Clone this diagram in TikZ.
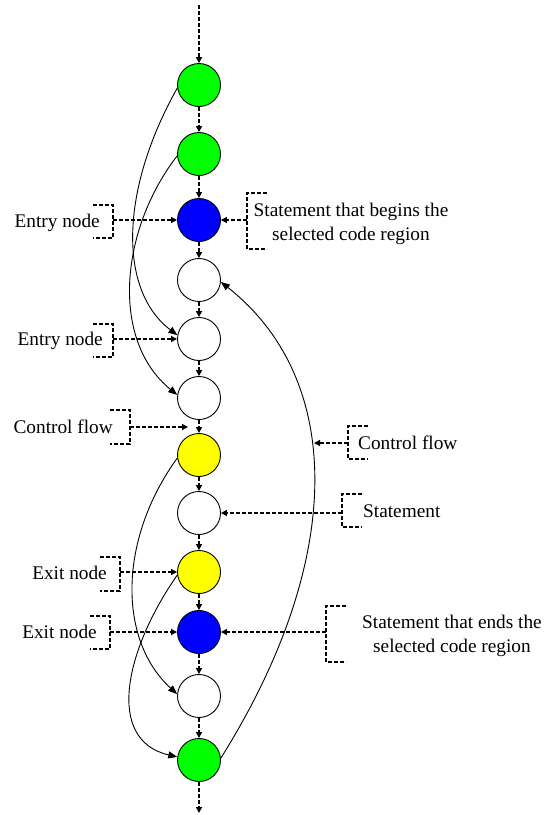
\documentclass[tikz,border=0pt]{standalone}
\usepackage{fontspec}
\setmainfont{Liberation Serif}
\usetikzlibrary{arrows.meta,calc}
\definecolor{ngreen}{RGB}{0,255,0}
\definecolor{nblue}{RGB}{0,0,255}
\definecolor{nyellow}{RGB}{255,255,0}
\begin{document}
\begin{tikzpicture}[x=1pt,y=-1pt,
  stmt/.style={circle,draw=black,line width=0.9pt,minimum size=43pt,inner sep=0pt,fill=white},
  flow/.style={line width=1.5pt,dash pattern=on 4pt off 2pt,-{Triangle[length=6pt,width=6pt]}},
  bracket/.style={line width=1.3pt,dash pattern=on 4pt off 2pt},
  pointer/.style={bracket,-{Triangle[length=6pt,width=6pt]}},
  jump/.style={line width=0.9pt,-{Triangle[length=9pt,width=7pt]}},
  lbl/.style={font=\fontsize{19.3}{24}\selectfont,inner sep=0pt,align=center}]
\useasboundingbox (0,0) rectangle (545,815);

% statements of the program, top to bottom
\node[stmt,fill=ngreen]  (n1)  at (199,85)  {};
\node[stmt,fill=ngreen]  (n2)  at (199,154) {};
\node[stmt,fill=nblue]   (n3)  at (199,220) {};
\node[stmt]              (n4)  at (199,280) {};
\node[stmt]              (n5)  at (199,339) {};
\node[stmt]              (n6)  at (199,398) {};
\node[stmt,fill=nyellow] (n7)  at (199,455) {};
\node[stmt]              (n8)  at (199,513) {};
\node[stmt,fill=nyellow] (n9)  at (199,572) {};
\node[stmt,fill=nblue]   (n10) at (199,632) {};
\node[stmt]              (n11) at (199,696) {};
\node[stmt,fill=ngreen]  (n12) at (199,760) {};
\coordinate (top) at (199,5);
\coordinate (bot) at (199,813);

% sequential control flow
\draw[flow] (top) -- (n1);
\foreach \a/\b in {n1/n2,n2/n3,n3/n4,n4/n5,n5/n6,n6/n7,n7/n8,n8/n9,n9/n10,n10/n11,n11/n12}
  \draw[flow] (\a) -- (\b);
\draw[flow] (n12) -- (bot);

% jumps
\draw[jump] (n1.188) .. controls (120,190) and (118,290) .. (n5.170);
\draw[jump] (n2.185) .. controls (120,230) and (110,340) .. (n6.172);
\draw[jump] (n7.188) .. controls (118,540) and (118,640) .. (n11.175);
\draw[jump] (n9.188) .. controls (125,650) and (105,740) .. (n12.172);
\draw[jump] (n12.5) .. controls (345,560) and (345,380) .. (n4.355);

% left annotations
\node[lbl,anchor=base east] (t1) at (100,227) {Entry node};
\coordinate (k1) at (113,220);
\draw[bracket] ([shift={(-20,-15)}]k1) -- ++(20,0) -- ++(0,33) -- ++(-20,0);
\draw[pointer] (k1) -- (n3);

\node[lbl,anchor=base east] (t2) at (103,345) {Entry node};
\coordinate (k2) at (113,339);
\draw[bracket] ([shift={(-20,-15)}]k2) -- ++(20,0) -- ++(0,33) -- ++(-20,0);
\draw[pointer] (k2) -- (n5);

\node[lbl,anchor=base east] (t3) at (113,433) {Control flow};
\coordinate (k3) at (130,427);
\coordinate (cfl) at (188,427);
\draw[bracket] ([shift={(-20,-17)}]k3) -- ++(20,0) -- ++(0,34) -- ++(-20,0);
\draw[pointer] (k3) -- (cfl);

\node[lbl,anchor=base east] (t4) at (107,579) {Exit node};
\coordinate (k4) at (120,572);
\draw[bracket] ([shift={(-20,-15)}]k4) -- ++(20,0) -- ++(0,34) -- ++(-20,0);
\draw[pointer] (k4) -- (n9);

\node[lbl,anchor=base east] (t5) at (97,638) {Exit node};
\coordinate (k5) at (110,632);
\draw[bracket] ([shift={(-20,-16)}]k5) -- ++(20,0) -- ++(0,33) -- ++(-20,0);
\draw[pointer] (k5) -- (n10);

% right annotations
\node[lbl] (t6) at (351,224) {Statement that begins the\\selected code region};
\coordinate (k6) at (247,220);
\draw[bracket] ([shift={(20,-27)}]k6) -- ++(-20,0) -- ++(0,56) -- ++(20,0);
\draw[pointer] (k6) -- (n3);

\node[lbl,anchor=base west] (t7) at (358,449) {Control flow};
\coordinate (k7) at (348,443);
\coordinate (cfr) at (314,443);
\draw[bracket] ([shift={(20,-17)}]k7) -- ++(-20,0) -- ++(0,33) -- ++(20,0);
\draw[pointer] (k7) -- (cfr);

\node[lbl,anchor=base west] (t8) at (363,517) {Statement};
\coordinate (k8) at (342,513);
\draw[bracket] ([shift={(20,-19)}]k8) -- ++(-20,0) -- ++(0,33) -- ++(20,0);
\draw[pointer] (k8) -- (n8);

\node[lbl] (t9) at (452,636) {Statement that ends the\\selected code region};
\coordinate (k9) at (326,632);
\draw[bracket] ([shift={(20,-26)}]k9) -- ++(-20,0) -- ++(0,56) -- ++(20,0);
\draw[pointer] (k9) -- (n10);
\end{tikzpicture}
\end{document}
